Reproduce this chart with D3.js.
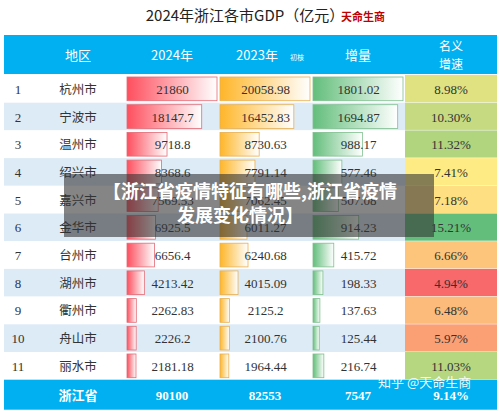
<!DOCTYPE html><html><head><meta charset="utf-8"><script src="https://cdn.jsdelivr.net/npm/d3@7"></script>
<style>body{margin:0;background:#fff}</style></head><body><svg id="c" width="500" height="411"></svg>
<script>
const cities=["杭州市","宁波市","温州市","绍兴市","嘉兴市","金华市","台州市","湖州市","衢州市","舟山市","丽水市"];
const gdp2024=[21860,18147.7,9718.8,8368.6,7569.53,6925.5,6656.4,4213.42,2262.83,2226.2,2181.18];
const gdp2023=[20058.98,16452.83,8730.63,7791.14,7062.45,6011.27,6240.68,4015.09,2125.2,2100.76,1964.44];
const incr=[1801.02,1694.87,988.17,577.46,507.08,914.23,415.72,198.33,137.63,125.44,216.74];
const growth=[8.98,10.30,11.32,7.41,7.18,15.21,6.66,4.94,6.48,5.97,11.03];
const labels2024=["21860","18147.7","9718.8","8368.6","7569.53","6925.5","6656.4","4213.42","2262.83","2226.2","2181.18"];
const labels2023=["20058.98","16452.83","8730.63","7791.14","7062.45","6011.27","6240.68","4015.09","2125.2","2100.76","1964.44"];
const total=["浙江省","90100","82553","7547","9.14%"];
const svg=d3.select("#c");
const F="'Noto Sans CJK SC',sans-serif", NF="'Liberation Serif','DejaVu Serif',serif";
svg.append("text").attr("x",245).attr("y",21).attr("text-anchor","middle").attr("font-family",F).attr("font-size",15).attr("fill","#222").text("2024年浙江各市GDP（亿元）");
svg.append("text").attr("x",363).attr("y",21).attr("text-anchor","middle").attr("font-family",F).attr("font-size",11).attr("font-weight","bold").attr("fill","#c00000").text("天命生商");
const top0=75,rh=27.7;
const y=d3.scaleBand().domain(d3.range(11)).range([top0,top0+11*rh]);
const cols=[{x:4,w:120},{x:127,w:91},{x:220,w:91},{x:313,w:91},{x:405,w:92}];
svg.append("rect").attr("x",4).attr("y",35).attr("width",493).attr("height",39).attr("fill","#00b0f0");
const hx=[78,172,265,358,451];
const hl=["地区","2024年","2023年","增量",""];
hl.forEach((t,i)=>svg.append("text").attr("x",hx[i]-(i==2?8:0)).attr("y",60).attr("text-anchor","middle").attr("font-family",F).attr("font-size",13).attr("fill","#fff").text(t));
svg.append("text").attr("x",290).attr("y",60).attr("font-family",F).attr("font-size",7).attr("fill","#fff").text("初核");
svg.append("text").attr("x",451).attr("y",51).attr("text-anchor","middle").attr("font-family",F).attr("font-size",12).attr("fill","#fff").text("名义");
svg.append("text").attr("x",451).attr("y",69).attr("text-anchor","middle").attr("font-family",F).attr("font-size",12).attr("fill","#fff").text("增速");
const defs=svg.append("defs");
[["r","#ff4f5e"],["o","#ffb628"],["g","#63be7b"]].forEach(([id,c])=>{const g=defs.append("linearGradient").attr("id",id);g.append("stop").attr("offset","0").attr("stop-color",c);g.append("stop").attr("offset","1").attr("stop-color","#fff");});
const rows=svg.selectAll("g.row").data(cities).join("g");
rows.append("rect").attr("x",4).attr("y",(d,i)=>y(i)).attr("width",401).attr("height",rh).attr("fill",(d,i)=>i%2?"#ddebf7":"#fff");
const sorted=growth.slice().sort(d3.ascending);
const cs=d3.scaleLinear().domain([sorted[0],d3.median(growth),sorted[10]]).range(["#f8696b","#ffeb84","#63be7b"]);
rows.append("rect").attr("x",405).attr("y",(d,i)=>y(i)).attr("width",92).attr("height",rh-0.5).attr("fill",(d,i)=>cs(growth[i]));
const series=[[gdp2024,labels2024,"r","#e46a75",1],[gdp2023,labels2023,"o","#e8b050",2],[incr,incr.map(v=>v.toFixed(2)),"g","#7fbf8e",3]];
series.forEach(([vals,labs,gid,stroke,ci])=>{
 const c=cols[ci];const xs=d3.scaleLinear().domain([0,d3.max(vals)]).range([0,c.w-1]);
 rows.append("rect").attr("x",c.x).attr("y",(d,i)=>y(i)+2).attr("width",(d,i)=>xs(vals[i])).attr("height",rh-4).attr("fill",`url(#${gid})`).attr("stroke",stroke).attr("stroke-width",0.8);
 rows.append("text").attr("x",c.x+c.w/2).attr("y",(d,i)=>y(i)+rh/2+5).attr("text-anchor","middle").attr("font-family",NF).attr("font-size",13).attr("fill","#333").text((d,i)=>labs[i]);
});
rows.append("text").attr("x",18).attr("y",(d,i)=>y(i)+rh/2+5).attr("text-anchor","middle").attr("font-family",NF).attr("font-size",13).attr("fill","#333").text((d,i)=>i+1);
rows.append("text").attr("x",78).attr("y",(d,i)=>y(i)+rh/2+5).attr("text-anchor","middle").attr("font-family",F).attr("font-size",12.5).attr("fill","#333").text(d=>d);
rows.append("text").attr("x",451).attr("y",(d,i)=>y(i)+rh/2+5).attr("text-anchor","middle").attr("font-family",NF).attr("font-size",13).attr("fill","#333").text((d,i)=>growth[i].toFixed(2)+"%");
const ty=top0+11*rh;
svg.append("rect").attr("x",4).attr("y",ty).attr("width",493).attr("height",30).attr("fill","#00b0f0");
total.forEach((t,i)=>svg.append("text").attr("x",hx[i]).attr("y",ty+20).attr("text-anchor","middle").attr("font-family",i==0?F:NF).attr("font-weight","bold").attr("font-size",13).attr("fill","#fff").text(t));
svg.append("text").attr("x",378).attr("y",ty+7).attr("font-family",F).attr("font-size",13).attr("fill","#fff").attr("fill-opacity",0.95).text("知乎 @天命生商");
svg.append("rect").attr("x",64).attr("y",174).attr("width",370).attr("height",63).attr("fill","#333").attr("fill-opacity",0.6);
svg.append("text").attr("x",250).attr("y",198).attr("text-anchor","middle").attr("font-family",F).attr("font-weight","bold").attr("font-size",18).attr("fill","#fff").text("【浙江省疫情特征有哪些,浙江省疫情");
svg.append("text").attr("x",240).attr("y",222).attr("text-anchor","middle").attr("font-family",F).attr("font-weight","bold").attr("font-size",18).attr("fill","#fff").text("发展变化情况】");
</script></body></html>
